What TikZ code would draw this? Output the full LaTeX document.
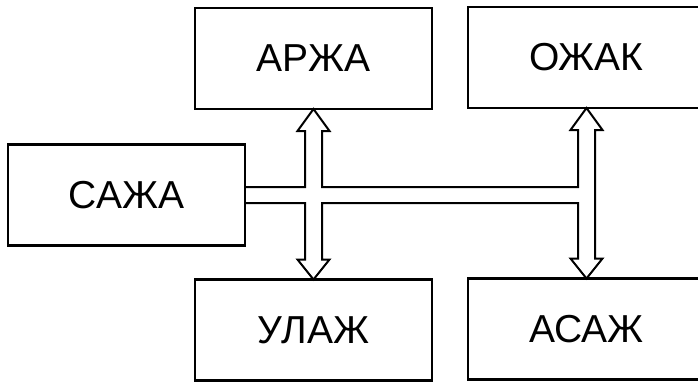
\documentclass[tikz,border=0pt]{standalone}
\usepackage{fontspec}
\setmainfont{Liberation Sans}
\usetikzlibrary{calc}
\tikzset{
  unit/.style={draw, line width=2.2pt, minimum width=237pt, minimum height=101pt,
    inner sep=0pt, outer sep=0pt, font=\fontsize{39}{42}\selectfont},
  busline/.style={draw, line width=2pt, line join=miter}
}
\begin{document}
\begin{tikzpicture}[x=1pt, y=-1pt]
  \useasboundingbox (0,0) rectangle (698,383);
  \clip (0,0) rectangle (698,383);

  % functional blocks
  \node[unit] (sazha) at (126.5,195)   {САЖА};
  \node[unit] (arzha) at (313.5,58.5)  {АРЖА};
  \node[unit] (ozhak) at (586.5,57.5)  {ОЖАК};
  \node[unit] (ulazh) at (313.5,330)   {УЛАЖ};
  \node[unit] (asazh) at (586.5,329)   {АСАЖ};

  % upper and lower edges of the common bus
  \coordinate (bt) at ($(sazha.east)+(0,-8)$);
  \coordinate (bb) at ($(sazha.east)+(0,8)$);

  % hollow bus with two double-headed block arrows
  \draw[busline]
    (bt)
    -- ($(bt -| arzha.south)+(-8.5,0)$)
    -- ($(arzha.south)+(-8.5,22)$)
    -- ($(arzha.south)+(-16,22)$)
    -- (arzha.south)
    -- ($(arzha.south)+(16,22)$)
    -- ($(arzha.south)+(8.5,22)$)
    -- ($(bt -| arzha.south)+(8.5,0)$)
    -- ($(bt -| ozhak.south)+(-8.5,0)$)
    -- ($(ozhak.south)+(-8.5,22)$)
    -- ($(ozhak.south)+(-16,22)$)
    -- (ozhak.south)
    -- ($(ozhak.south)+(16,22)$)
    -- ($(ozhak.south)+(8.5,22)$)
    -- ($(asazh.north)+(8.5,-20)$)
    -- ($(asazh.north)+(16,-20)$)
    -- (asazh.north)
    -- ($(asazh.north)+(-16,-20)$)
    -- ($(asazh.north)+(-8.5,-20)$)
    -- ($(bb -| asazh.north)+(-8.5,0)$)
    -- ($(bb -| ulazh.north)+(8.5,0)$)
    -- ($(ulazh.north)+(8.5,-20)$)
    -- ($(ulazh.north)+(16,-20)$)
    -- (ulazh.north)
    -- ($(ulazh.north)+(-16,-20)$)
    -- ($(ulazh.north)+(-8.5,-20)$)
    -- ($(bb -| ulazh.north)+(-8.5,0)$)
    -- (bb);
\end{tikzpicture}
\end{document}
